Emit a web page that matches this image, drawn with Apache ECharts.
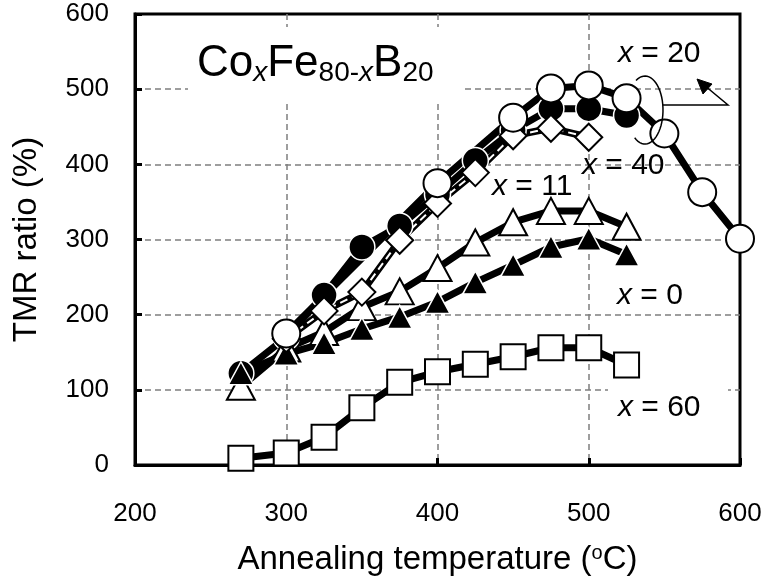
<!DOCTYPE html>
<html>
<head>
<meta charset="utf-8">
<script src="https://cdn.jsdelivr.net/npm/echarts@6/dist/echarts.min.js"></script>
<style>html,body{margin:0;padding:0;background:#fff}#c{width:767px;height:579px}</style>
</head>
<body>
<div id="c"></div>
<script>
// ---- data ----
const tempsMain = [270, 300, 325, 350, 375, 400, 425, 450, 475, 500, 525];
const x0Filled = [122, 148, 162, 181, 197, 217, 243, 266, 290, 301, 280];      // x = 0, filled triangles
const x11Open = [104, 155, 177, 210, 231, 262, 296, 323, 338, 338, 317];       // x = 11, open triangles
const x60Square = [9, 16, 37, 76, 110, 124, 134, 144, 156, 156, 133];          // x = 60, open squares
const x20Filled = [122, 170, 226, 290, 318, 360, 405, 445, 474, 474, 465];     // x = 20, filled circles
const tempsX40 = [300, 325, 350, 375, 400, 425, 450, 475, 500];
const x40Diamond = [168, 205, 230, 299, 348, 389, 438, 448, 436];              // x = 40, open diamonds
const tempsX20Open = [300, 400, 450, 475, 500, 525, 550, 575, 600];
const x20Open = [175, 375, 462, 501, 505, 488, 441, 363, 301];                 // x = 20, open circles
const xTicks = [200, 300, 400, 500, 600];
const yTicks = [0, 100, 200, 300, 400, 500, 600];

const pairs = (xs, ys) => xs.map((x, i) => [x, ys[i]]);
const FONT = "'Liberation Sans', Arial, sans-serif";

const chart = echarts.init(document.getElementById('c'), null, {renderer: 'canvas'});

const openStyle = {color: '#fff', borderColor: '#000', borderWidth: 2};
const filledStyle = {color: '#000', borderColor: '#fff', borderWidth: 1.5};
const lineBlack = w => ({color: '#000', width: w, type: 'solid'});

function ellipsePts(cx, cy, rx, ry, a0, a1, n) {
  const pts = [];
  for (let i = 0; i <= n; i++) {
    const a = (a0 + (a1 - a0) * i / n) * Math.PI / 180;
    pts.push([cx + rx * Math.cos(a), cy + ry * Math.sin(a)]);
  }
  return pts;
}

const splitStyle = {show: true, showMinLine: false, showMaxLine: false,
  lineStyle: {color: '#7f7f7f', width: 1.5, type: [6, 4]}};

const option = {
  backgroundColor: '#fff',
  animation: false,
  grid: {left: 135, right: 27, top: 14, bottom: 114, show: true, borderColor: '#000', borderWidth: 3, outerBoundsMode: 'none'},
  xAxis: {
    type: 'value', min: xTicks[0], max: xTicks[xTicks.length - 1], interval: 100,
    axisLine: {show: true, lineStyle: {color: '#000', width: 3}},
    axisTick: {show: true, inside: true, length: 7, lineStyle: {color: '#000', width: 3}},
    axisLabel: {color: '#000', fontSize: 26, fontFamily: FONT, margin: 36},
    splitLine: splitStyle,
    name: 'Annealing temperature ({sup|o}C)',
    nameLocation: 'middle', nameGap: 78,
    nameTextStyle: {color: '#000', fontSize: 33, fontFamily: FONT,
      rich: {sup: {fontSize: 20, fontFamily: FONT, color: '#000', padding: [0, 0, 14, 0]}}}
  },
  yAxis: {
    type: 'value', min: yTicks[0], max: yTicks[yTicks.length - 1], interval: 100,
    axisLine: {show: true, lineStyle: {color: '#000', width: 3}},
    axisTick: {show: true, inside: true, length: 7, lineStyle: {color: '#000', width: 3}},
    axisLabel: {color: '#000', fontSize: 26, fontFamily: FONT, margin: 26},
    splitLine: splitStyle,
    name: 'TMR ratio (%)', nameLocation: 'middle', nameGap: 92,
    nameTextStyle: {color: '#000', fontSize: 33, fontFamily: FONT}
  },
  series: [
    {name: 'x=60', type: 'line', data: pairs(tempsMain, x60Square), symbol: 'rect', symbolSize: 25,
      lineStyle: lineBlack(7), itemStyle: openStyle, z: 2},
    {name: 'x=20 filled', type: 'line', data: pairs(tempsMain, x20Filled), symbol: 'circle', symbolSize: 26,
      lineStyle: lineBlack(7), itemStyle: filledStyle, z: 2},
    {name: 'x=11', type: 'line', data: pairs(tempsMain, x11Open), symbol: 'triangle', symbolSize: [28, 26],
      lineStyle: lineBlack(7), itemStyle: openStyle, z: 2},
    {name: 'x=0', type: 'line', data: pairs(tempsMain, x0Filled), symbol: 'triangle', symbolSize: [25, 23],
      lineStyle: lineBlack(7), itemStyle: filledStyle, z: 2},
    {name: 'x=40 line', type: 'line', data: pairs(tempsX40, x40Diamond), symbol: 'none',
      lineStyle: lineBlack(7), z: 2},
    {name: 'x=40 inner', type: 'line', data: pairs(tempsX40, x40Diamond), symbol: 'none',
      lineStyle: {color: '#fff', width: 2, type: [8, 5]}, z: 2},
    {name: 'x=40', type: 'line', data: pairs(tempsX40, x40Diamond), symbol: 'diamond', symbolSize: 27,
      lineStyle: {width: 0, opacity: 0}, itemStyle: openStyle, z: 2},
    {name: 'x=20 open', type: 'line', data: pairs(tempsX20Open, x20Open), symbol: 'circle', symbolSize: 28,
      lineStyle: lineBlack(7), itemStyle: openStyle, z: 2}
  ],
  graphic: [
    {type: 'rect', z: 1, shape: {x: 188, y: 27, width: 274, height: 76}, style: {fill: '#fff'}},
    {type: 'rect', z: 1, shape: {x: 608, y: 386, width: 120, height: 40}, style: {fill: '#fff'}},
    {type: 'text', z: 20, x: 197, y: 64, style: {
      text: '{m|Co}{si|x}{m|Fe}{s|80-}{si|x}{m|B}{s|20}', fill: '#000', verticalAlign: 'middle', align: 'left',
      font: '44px ' + FONT,
      rich: {
        m: {fontSize: 44, fontFamily: FONT, fill: '#000'},
        s: {fontSize: 28, fontFamily: FONT, fill: '#000', padding: [18, 0, 0, 0]},
        si: {fontSize: 28, fontFamily: FONT, fontStyle: 'italic', fill: '#000', padding: [18, 0, 0, 0]}
      }}},
    {type: 'text', z: 20, x: 618, y: 54, style: {text: '{i|x} = 20', font: '30px ' + FONT, fill: '#000', verticalAlign: 'middle',
      rich: {i: {fontSize: 30, fontFamily: FONT, fontStyle: 'italic'}}}},
    {type: 'text', z: 20, x: 582, y: 166, style: {text: '{i|x} = 40', font: '30px ' + FONT, fill: '#000', verticalAlign: 'middle',
      rich: {i: {fontSize: 30, fontFamily: FONT, fontStyle: 'italic'}}}},
    {type: 'text', z: 20, x: 492, y: 187, style: {text: '{i|x} = 11', font: '30px ' + FONT, fill: '#000', verticalAlign: 'middle',
      rich: {i: {fontSize: 30, fontFamily: FONT, fontStyle: 'italic'}}}},
    {type: 'text', z: 20, x: 617, y: 296, style: {text: '{i|x} = 0', font: '30px ' + FONT, fill: '#000', verticalAlign: 'middle',
      rich: {i: {fontSize: 30, fontFamily: FONT, fontStyle: 'italic'}}}},
    {type: 'text', z: 20, x: 618, y: 408, style: {text: '{i|x} = 60', font: '30px ' + FONT, fill: '#000', verticalAlign: 'middle',
      rich: {i: {fontSize: 30, fontFamily: FONT, fontStyle: 'italic'}}}},
    {type: 'polyline', z: 20, shape: {points: ellipsePts(645, 110, 18, 34, -120, 125, 40)},
      style: {stroke: '#000', lineWidth: 1.5, fill: null}},
    {type: 'polyline', z: 20, shape: {points: [[663, 105], [728, 105], [704, 85]]},
      style: {stroke: '#000', lineWidth: 1.5, fill: null}},
    {type: 'polygon', z: 20, shape: {points: [[697, 79], [712, 84], [703, 94]]},
      style: {fill: '#000', stroke: '#000', lineWidth: 1}}
  ]
};
chart.setOption(option);
</script>
</body>
</html>
